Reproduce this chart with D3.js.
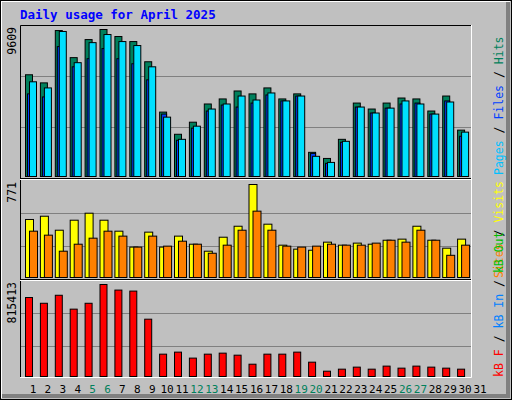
<!DOCTYPE html>
<html>
<head>
<meta charset="utf-8">
<script src="https://cdn.jsdelivr.net/npm/d3@7"></script>
<style>
  body { margin: 0; background: #fff; }
  text { font-family: "DejaVu Sans Mono", "Liberation Mono", monospace; }
</style>
</head>
<body>
<div id="chart"></div>
<script>
// daily figures for April 2025
const days = d3.range(1, 32);
const weekends = [5, 6, 12, 13, 19, 20, 26, 27];
const hits = [6650, 6120, 9540, 7770, 8950, 9609, 9150, 8820, 7500, 4210, 2760, 3550, 4740, 5070, 5590, 5400, 5790, 5070, 5400, 1580, 1180, 2430, 4800, 4410, 4800, 5130, 5070, 4280, 5260, 3030, 0];
const files = [6190, 5790, 9480, 7440, 8750, 9280, 8820, 8560, 7170, 3880, 2430, 3290, 4410, 4740, 5260, 5000, 5460, 4940, 5260, 1320, 920, 2300, 4540, 4150, 4470, 4940, 4740, 4080, 4870, 2900, 0];
const pages = [5400, 5200, 8490, 7170, 7700, 8360, 7700, 7370, 6320, 4080, 2370, 3160, 4280, 4670, 4540, 4800, 5330, 4940, 5260, 1510, 860, 2240, 4540, 4150, 4470, 4740, 4800, 4080, 4940, 2630, 0];
const visits = [481, 508, 392, 475, 533, 475, 384, 252, 376, 252, 343, 276, 218, 334, 425, 771, 442, 268, 235, 226, 293, 268, 285, 276, 309, 318, 425, 309, 243, 318, 0];
const sites = [384, 351, 218, 276, 326, 384, 343, 252, 343, 260, 301, 276, 201, 268, 392, 550, 392, 260, 252, 260, 276, 268, 268, 285, 309, 293, 392, 309, 184, 268, 0];
const kbytes = [700000, 649000, 720000, 597000, 649000, 815413, 766000, 757000, 508000, 198000, 216000, 163000, 198000, 207000, 189000, 109000, 198000, 198000, 216000, 127000, 47000, 65000, 83000, 65000, 92000, 74000, 92000, 83000, 74000, 65000, 0];

const W = 512, H = 400;
const svg = d3.select("#chart").append("svg").attr("width", W).attr("height", H);

// outer frame, 3d look
svg.append("rect").attr("x", 0).attr("y", 0).attr("width", W).attr("height", H).attr("fill", "#c0c0c0");
svg.append("path").attr("d", "M1,1H510").attr("stroke", "#fff").attr("stroke-width", 2);
svg.append("path").attr("d", "M1,1V398").attr("stroke", "#fff").attr("stroke-width", 2);
svg.append("path").attr("d", "M2,396H508V2").attr("fill", "none").attr("stroke", "#808080").attr("stroke-width", 4);
svg.append("rect").attr("x", 0.5).attr("y", 0.5).attr("width", W - 1).attr("height", H - 1)
  .attr("fill", "none").attr("stroke", "#000");

svg.append("text").attr("x", 20).attr("y", 19).attr("fill", "#0000ff")
  .attr("font-weight", "bold").attr("font-size", 12.5).text("Daily usage for April 2025");

const left = 20, right = 471;
const x = d3.scaleLinear().domain([1, 31]).range([25, 472]);

// plot area and panel separators
svg.append("rect").attr("x", left).attr("y", 25).attr("width", right - left).attr("height", 352)
  .attr("fill", "#c0c0c0");
svg.append("path").attr("d", `M${left + 0.5},377V25.5H${right}`).attr("fill", "none").attr("stroke", "#000");
svg.append("path").attr("d", `M${left},377.5H${right + 0.5}V25`).attr("fill", "none").attr("stroke", "#fff");
[178, 279].forEach(yy => {
  svg.append("line").attr("x1", left).attr("x2", right).attr("y1", yy + 0.5).attr("y2", yy + 0.5).attr("stroke", "#000");
  svg.append("line").attr("x1", left).attr("x2", right).attr("y1", yy + 1.5).attr("y2", yy + 1.5).attr("stroke", "#fff");
});

function panel(y0, y1, maxV, ticks) {
  const y = d3.scaleLinear().domain([0, maxV]).range([y0, y1]);
  const g = svg.append("g");
  ticks.forEach(t => g.append("line").attr("x1", left + 1).attr("x2", right)
    .attr("y1", t + 0.5).attr("y2", t + 0.5).attr("stroke", "#808080"));
  g.append("text").attr("transform", `translate(16,${y1 - 2}) rotate(-90)`)
    .attr("text-anchor", "end").attr("font-size", 11.5).attr("fill", "#000").text(maxV);
  return { y, g };
}

function bars(p, data, dx, w, color) {
  p.g.selectAll(null).data(days.filter(d => data[d - 1] > 0)).enter().append("rect")
    .attr("x", d => x(d) + dx + 0.5)
    .attr("y", d => p.y(data[d - 1]) + 0.5)
    .attr("width", w)
    .attr("height", d => p.y(0) - p.y(data[d - 1]))
    .attr("fill", color).attr("stroke", "#000");
}

const topPanel = panel(176, 29, 9609, [76, 127]);
bars(topPanel, hits, 0, 7, "#00805c");
bars(topPanel, pages, 2, 5, "#0040ff");
bars(topPanel, files, 4, 7, "#00e0ff");

const midPanel = panel(277, 184, 771, [213, 246]);
bars(midPanel, visits, 0, 8, "#ffff00");
bars(midPanel, sites, 4, 8, "#ff8000");

const botPanel = panel(376, 284, 815413, [313, 346]);
bars(botPanel, kbytes, 0, 7, "#ff0000");

// day labels
svg.selectAll(".day").data(days).enter().append("text")
  .attr("x", d => x(d) + 8).attr("y", 393).attr("text-anchor", "middle")
  .attr("font-size", 11).attr("fill", d => weekends.includes(d) ? "#00805c" : "#000")
  .text(d => d);

// right side legends
function legend(yEnd, parts) {
  const t = svg.append("text").attr("transform", `translate(503,${yEnd}) rotate(-90)`)
    .attr("font-size", 11.5);
  parts.forEach(([s, c]) => t.append("tspan").attr("fill", c).text(s));
}
legend(175, [["Pages", "#00c0ff"], [" / ", "#000"], ["Files", "#0040ff"], [" / ", "#000"], ["Hits", "#00805c"]]);
legend(278, [["Sites", "#ff8000"], [" / ", "#000"], ["Visits", "#ffff00"]]);
legend(377, [["kB F", "#ff0000"], [" / ", "#000"], ["kB In", "#0080ff"], [" / ", "#000"], ["kB Out", "#00c000"]]);
</script>
</body>
</html>
